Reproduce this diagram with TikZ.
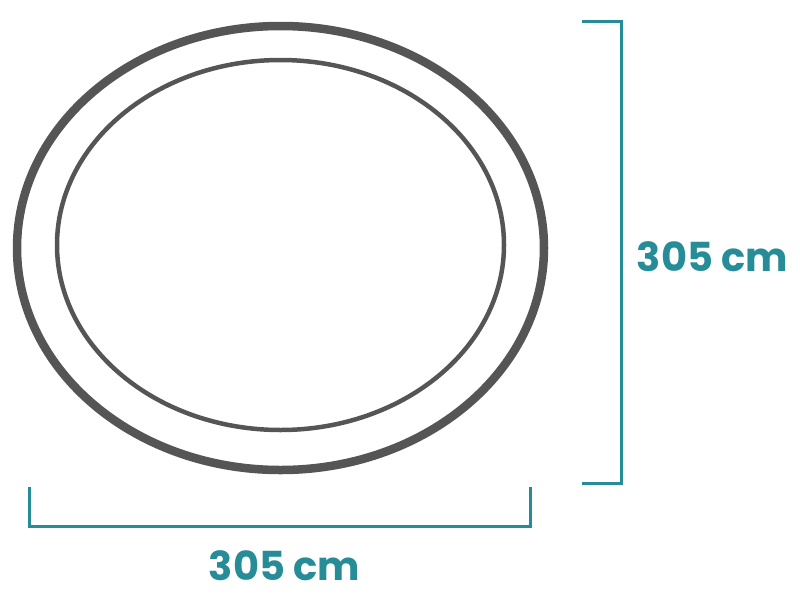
\documentclass[tikz,border=0pt]{standalone}
\usepackage{fontspec}
\newfontfamily\dimfont{Poppins}
\definecolor{ringgray}{RGB}{85,85,85}
\definecolor{dimteal}{RGB}{38,140,152}
\begin{document}
\begin{tikzpicture}[x=1pt,y=-1pt,
  ring/.style={draw=ringgray},
  dimline/.style={draw=dimteal,line width=3pt,line cap=butt,line join=miter},
  dimlabel/.style={text=dimteal,font=\dimfont\bfseries\fontsize{40}{40}\selectfont,anchor=base,inner sep=0pt}]
\useasboundingbox (0,0) rectangle (800,600);
\draw[ring,line width=8.5pt] (280.5,248) ellipse [x radius=263.5,y radius=222];
\draw[ring,line width=4.5pt] (280.5,245) ellipse [x radius=223.5,y radius=185];
\coordinate (rt1) at (582,21);
\coordinate (rt2) at (621,21);
\coordinate (rb2) at (621,483);
\coordinate (rb1) at (582,483);
\draw[dimline] (rt1) -- (rt2) -- (rb2) -- (rb1);
\coordinate (bl1) at (29,487);
\coordinate (bl2) at (29,526);
\coordinate (br2) at (530,526);
\coordinate (br1) at (530,487);
\draw[dimline] (bl1) -- (bl2) -- (br2) -- (br1);
\node[dimlabel] (hlabel) at (712.5,271) {305 cm};
\node[dimlabel] (wlabel) at (284.5,580) {305 cm};
\end{tikzpicture}
\end{document}
